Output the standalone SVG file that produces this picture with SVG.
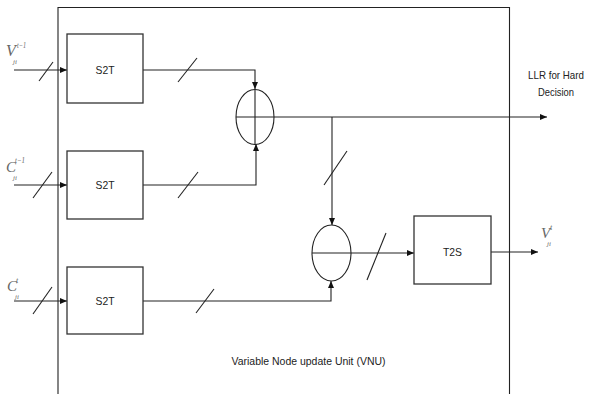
<svg xmlns="http://www.w3.org/2000/svg" width="590" height="394" viewBox="0 0 590 394">
<style>
.ln{stroke:#222;stroke-width:1.1;fill:none}
.bx{stroke:#333;stroke-width:1.3;fill:#fff}
.t{font-family:"Liberation Sans",Arial,sans-serif;font-size:11px;fill:#222}
.m{font-family:"Liberation Serif","Times New Roman",serif;font-style:italic;fill:#666}
</style>
<defs>
<marker id="ah" markerWidth="7" markerHeight="6" refX="7" refY="3" orient="auto" markerUnits="userSpaceOnUse">
<path d="M0,0 L7,3 L0,6 z" fill="#111"/>
</marker>
</defs>
<rect width="590" height="394" fill="#fff"/>
<g id="vnu">
<path class="ln" d="M58,400 V7.5 H509.5 V400"/>
<text class="t" x="308.5" y="365" text-anchor="middle" textLength="154" lengthAdjust="spacingAndGlyphs">Variable Node update Unit (VNU)</text>
</g>
<g id="connectors">
<line class="ln" x1="14" y1="70" x2="67" y2="70" marker-end="url(#ah)"/>
<line class="ln" x1="14" y1="185" x2="67" y2="185" marker-end="url(#ah)"/>
<line class="ln" x1="14" y1="301" x2="67" y2="301" marker-end="url(#ah)"/>
<path class="ln" d="M143,70 H255 V89" marker-end="url(#ah)"/>
<path class="ln" d="M143,185 H256 V144" marker-end="url(#ah)"/>
<path class="ln" d="M143,301 H331 V281" marker-end="url(#ah)"/>
<line class="ln" x1="274" y1="117" x2="547" y2="117" marker-end="url(#ah)"/>
<line class="ln" x1="332" y1="117" x2="332" y2="225" marker-end="url(#ah)"/>
<line class="ln" x1="351" y1="253" x2="414" y2="253" marker-end="url(#ah)"/>
<line class="ln" x1="491" y1="252" x2="538" y2="252" marker-end="url(#ah)"/>
<g class="ln">
<line x1="39" y1="81" x2="53" y2="62"/>
<line x1="33" y1="198" x2="52" y2="172"/>
<line x1="33" y1="314" x2="52" y2="287"/>
<line x1="178" y1="82" x2="197" y2="58"/>
<line x1="178" y1="198" x2="198" y2="172"/>
<line x1="196" y1="313" x2="214" y2="289"/>
<line x1="324" y1="185" x2="347" y2="151"/>
<line x1="367" y1="280" x2="386" y2="233"/>
</g>
</g>
<g id="s2t1"><rect class="bx" x="67" y="34" width="76" height="69"/><text class="t" x="105" y="74" text-anchor="middle" textLength="19" lengthAdjust="spacingAndGlyphs">S2T</text></g>
<g id="s2t2"><rect class="bx" x="67" y="151" width="76" height="68"/><text class="t" x="105" y="189" text-anchor="middle" textLength="19" lengthAdjust="spacingAndGlyphs">S2T</text></g>
<g id="s2t3"><rect class="bx" x="67" y="267" width="76" height="67"/><text class="t" x="105" y="305" text-anchor="middle" textLength="19" lengthAdjust="spacingAndGlyphs">S2T</text></g>
<g id="adder"><ellipse class="ln" cx="255" cy="117" rx="19" ry="27.5"/><line class="ln" x1="236" y1="117" x2="274" y2="117"/><line class="ln" x1="255" y1="89.5" x2="255" y2="144.5"/></g>
<g id="sub"><ellipse class="ln" cx="331.5" cy="253" rx="19.5" ry="28"/><line class="ln" x1="312" y1="253" x2="351" y2="253"/></g>
<g id="t2s"><rect class="bx" x="414" y="216" width="77" height="68"/><text class="t" x="452.5" y="256" text-anchor="middle" textLength="19" lengthAdjust="spacingAndGlyphs">T2S</text></g>
<g id="llr"><text class="t" x="556" y="79" text-anchor="middle" textLength="56" lengthAdjust="spacingAndGlyphs">LLR for Hard</text><text class="t" x="556" y="96" text-anchor="middle" textLength="36" lengthAdjust="spacingAndGlyphs">Decision</text></g>
<g id="lbl-v-in"><text class="m" x="6" y="56" font-size="16">V</text><text class="m" x="17" y="48" font-size="8" textLength="9" lengthAdjust="spacingAndGlyphs">t−1</text><text class="m" x="13" y="64" font-size="7">ji</text></g>
<g id="lbl-c-prev"><text class="m" x="6" y="172" font-size="15">C</text><text class="m" x="15" y="163" font-size="8" textLength="10" lengthAdjust="spacingAndGlyphs">t−1</text><text class="m" x="13" y="180" font-size="7">ji</text></g>
<g id="lbl-c"><text class="m" x="7" y="291" font-size="15">C</text><text class="m" x="16" y="283" font-size="8">t</text><text class="m" x="15" y="299" font-size="7">ji</text></g>
<g id="lbl-v-out"><text class="m" x="541" y="238" font-size="15">V</text><text class="m" x="550" y="230" font-size="8">t</text><text class="m" x="547" y="246" font-size="7">ji</text></g>
</svg>
